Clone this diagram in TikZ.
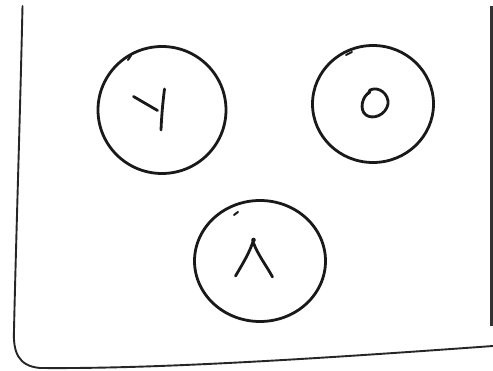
\documentclass[tikz,border=0pt]{standalone}
\usetikzlibrary{shapes.geometric}
\begin{document}
\begin{tikzpicture}[x=1pt,y=-1pt,
  pen/.style={line width=2.8pt,line cap=round,line join=round,black!90},
  frame/.style={line width=1.9pt,line cap=round,line join=round,black!85},
  ring/.style={ellipse,draw,line width=2.8pt,black!90,inner sep=0pt}]
\useasboundingbox[fill=white] (0,0) rectangle (493,371);
% frame
\draw[frame] (22.5,6) .. controls (20,120) and (16,240) .. (14,330)
  .. controls (13,352) and (18,366) .. (40,368)
  .. controls (150,369) and (300,360) .. (493,346);
\draw[line width=3.5pt,black!80] (491.5,6) -- (491.5,326);
% circles
\node[ring,minimum width=128pt,minimum height=127pt] (c1) at (162,110) {};
\node[ring,minimum width=121pt,minimum height=117pt] (c2) at (373,104) {};
\node[ring,minimum width=131pt,minimum height=121pt] (c3) at (260,261) {};
% pen-start ticks
\draw[pen,line width=2pt] (128,60) -- (131,55.5);
\draw[pen,line width=2pt] (346,55) -- (352,52);
\draw[pen,line width=2pt] (234,215) -- (238,212);
% glyph in c1
\draw[pen] (133.5,96.5) -- (157.5,110.5);
\draw[pen] (164.5,89) .. controls (162.5,105) and (161.5,118) .. (161,130);
% glyph in c2
\draw[pen] (370,92) .. controls (362,96) and (359,110) .. (366,115)
  .. controls (373,120) and (386,115) .. (388,104)
  .. controls (389,94) and (379,86) .. (370,90) -- (368,94);
% glyph in c3
\draw[pen] (253.5,240) .. controls (250,252) and (242,265) .. (235.5,276);
\draw[pen] (253.5,243) .. controls (258,255) and (266,265) .. (272.5,277);
\fill[black!90] (253.5,240) circle (2.3pt);
\end{tikzpicture}
\end{document}
